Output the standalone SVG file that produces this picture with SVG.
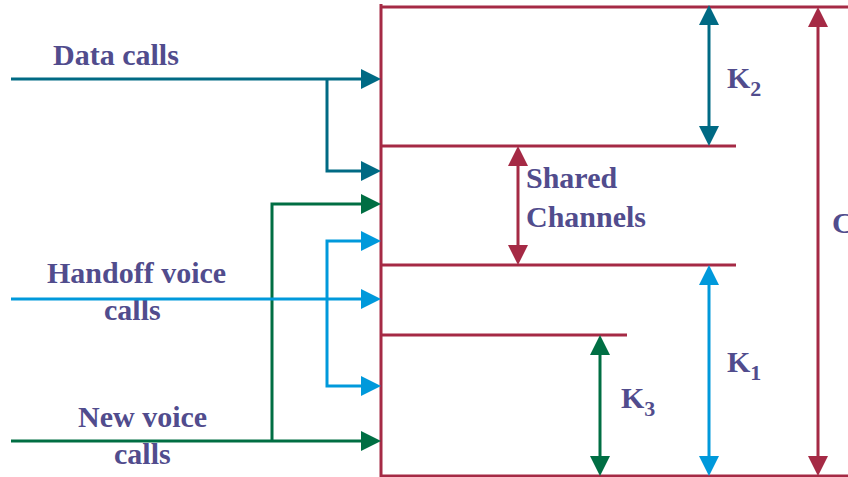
<svg xmlns="http://www.w3.org/2000/svg" width="848" height="477" viewBox="0 0 848 477">
  <style>
    .lbl { font-family: "Liberation Serif", "Times New Roman", serif; font-weight: bold; font-size: 30px; fill: #514C8D; }
    .sub { font-size: 22px; }
    .ln { fill: none; stroke-width: 3; stroke-linecap: butt; stroke-linejoin: miter; }
    .maroon { stroke: #A52A45; }
    .teal { stroke: #006A84; }
    .sky { stroke: #0099DB; }
    .green { stroke: #006E43; }
  </style>
  <defs>
    <marker id="ah-teal" viewBox="0 0 20 20" refX="14" refY="10" markerWidth="20" markerHeight="20" markerUnits="userSpaceOnUse" orient="auto-start-reverse">
      <path d="M0,0 L20,10 L0,20 Z" fill="#006A84"/>
    </marker>
    <marker id="ah-sky" viewBox="0 0 20 20" refX="14" refY="10" markerWidth="20" markerHeight="20" markerUnits="userSpaceOnUse" orient="auto-start-reverse">
      <path d="M0,0 L20,10 L0,20 Z" fill="#0099DB"/>
    </marker>
    <marker id="ah-green" viewBox="0 0 20 20" refX="14" refY="10" markerWidth="20" markerHeight="20" markerUnits="userSpaceOnUse" orient="auto-start-reverse">
      <path d="M0,0 L20,10 L0,20 Z" fill="#006E43"/>
    </marker>
    <marker id="ah-maroon" viewBox="0 0 20 20" refX="14" refY="10" markerWidth="20" markerHeight="20" markerUnits="userSpaceOnUse" orient="auto-start-reverse">
      <path d="M0,0 L20,10 L0,20 Z" fill="#A52A45"/>
    </marker>
  </defs>

  <!-- channel pool frame and partition levels -->
  <g id="pool">
    <path class="ln maroon" d="M381,4 V477"/>
    <path class="ln maroon" d="M381,7 H848"/>
    <path class="ln maroon" d="M381,146 H736"/>
    <path class="ln maroon" d="M381,265 H736"/>
    <path class="ln maroon" d="M381,335 H627"/>
    <path class="ln maroon" d="M381,476 H848"/>
  </g>

  <!-- source labels -->
  <g id="data-calls">
    <text class="lbl" x="53" y="65">Data calls</text>
  </g>
  <g id="handoff-voice-calls">
    <text class="lbl" x="47" y="283">Handoff voice</text>
    <text class="lbl" x="104" y="320">calls</text>
  </g>
  <g id="new-voice-calls">
    <text class="lbl" x="78" y="427">New voice</text>
    <text class="lbl" x="114" y="464">calls</text>
  </g>

  <!-- partition size labels -->
  <g id="k2-label">
    <text class="lbl" x="727" y="88">K<tspan class="sub" dy="8">2</tspan></text>
  </g>
  <g id="shared-label">
    <text class="lbl" x="526" y="188">Shared</text>
    <text class="lbl" x="526" y="227">Channels</text>
  </g>
  <g id="c-label">
    <text class="lbl" x="832" y="233">C</text>
  </g>
  <g id="k1-label">
    <text class="lbl" x="727" y="372">K<tspan class="sub" dy="8">1</tspan></text>
  </g>
  <g id="k3-label">
    <text class="lbl" x="621" y="408">K<tspan class="sub" dy="8">3</tspan></text>
  </g>

  <!-- connectors -->
  <g id="connectors">
    <!-- data calls: into K2 block and into shared block -->
    <path class="ln teal" d="M11,79 H375" marker-end="url(#ah-teal)"/>
    <path class="ln teal" d="M327,79 V171 H375" marker-end="url(#ah-teal)"/>
    <!-- new voice calls: into shared block and into K3 block -->
    <path class="ln green" d="M11,441 H375" marker-end="url(#ah-green)"/>
    <path class="ln green" d="M272,441 V204 H375" marker-end="url(#ah-green)"/>
    <!-- handoff voice calls: shared, K1 and K3 regions -->
    <path class="ln sky" d="M11,299 H375" marker-end="url(#ah-sky)"/>
    <path class="ln sky" d="M375,241 H327 V386 H375" marker-start="url(#ah-sky)" marker-end="url(#ah-sky)"/>

    <!-- dimension arrows -->
    <path class="ln teal" d="M709,11 V140" marker-start="url(#ah-teal)" marker-end="url(#ah-teal)"/>
    <path class="ln maroon" d="M518,152 V259" marker-start="url(#ah-maroon)" marker-end="url(#ah-maroon)"/>
    <path class="ln sky" d="M709,271 V470" marker-start="url(#ah-sky)" marker-end="url(#ah-sky)"/>
    <path class="ln green" d="M600,341 V470" marker-start="url(#ah-green)" marker-end="url(#ah-green)"/>
    <path class="ln maroon" d="M818,13 V470" marker-start="url(#ah-maroon)" marker-end="url(#ah-maroon)"/>
  </g>
</svg>
